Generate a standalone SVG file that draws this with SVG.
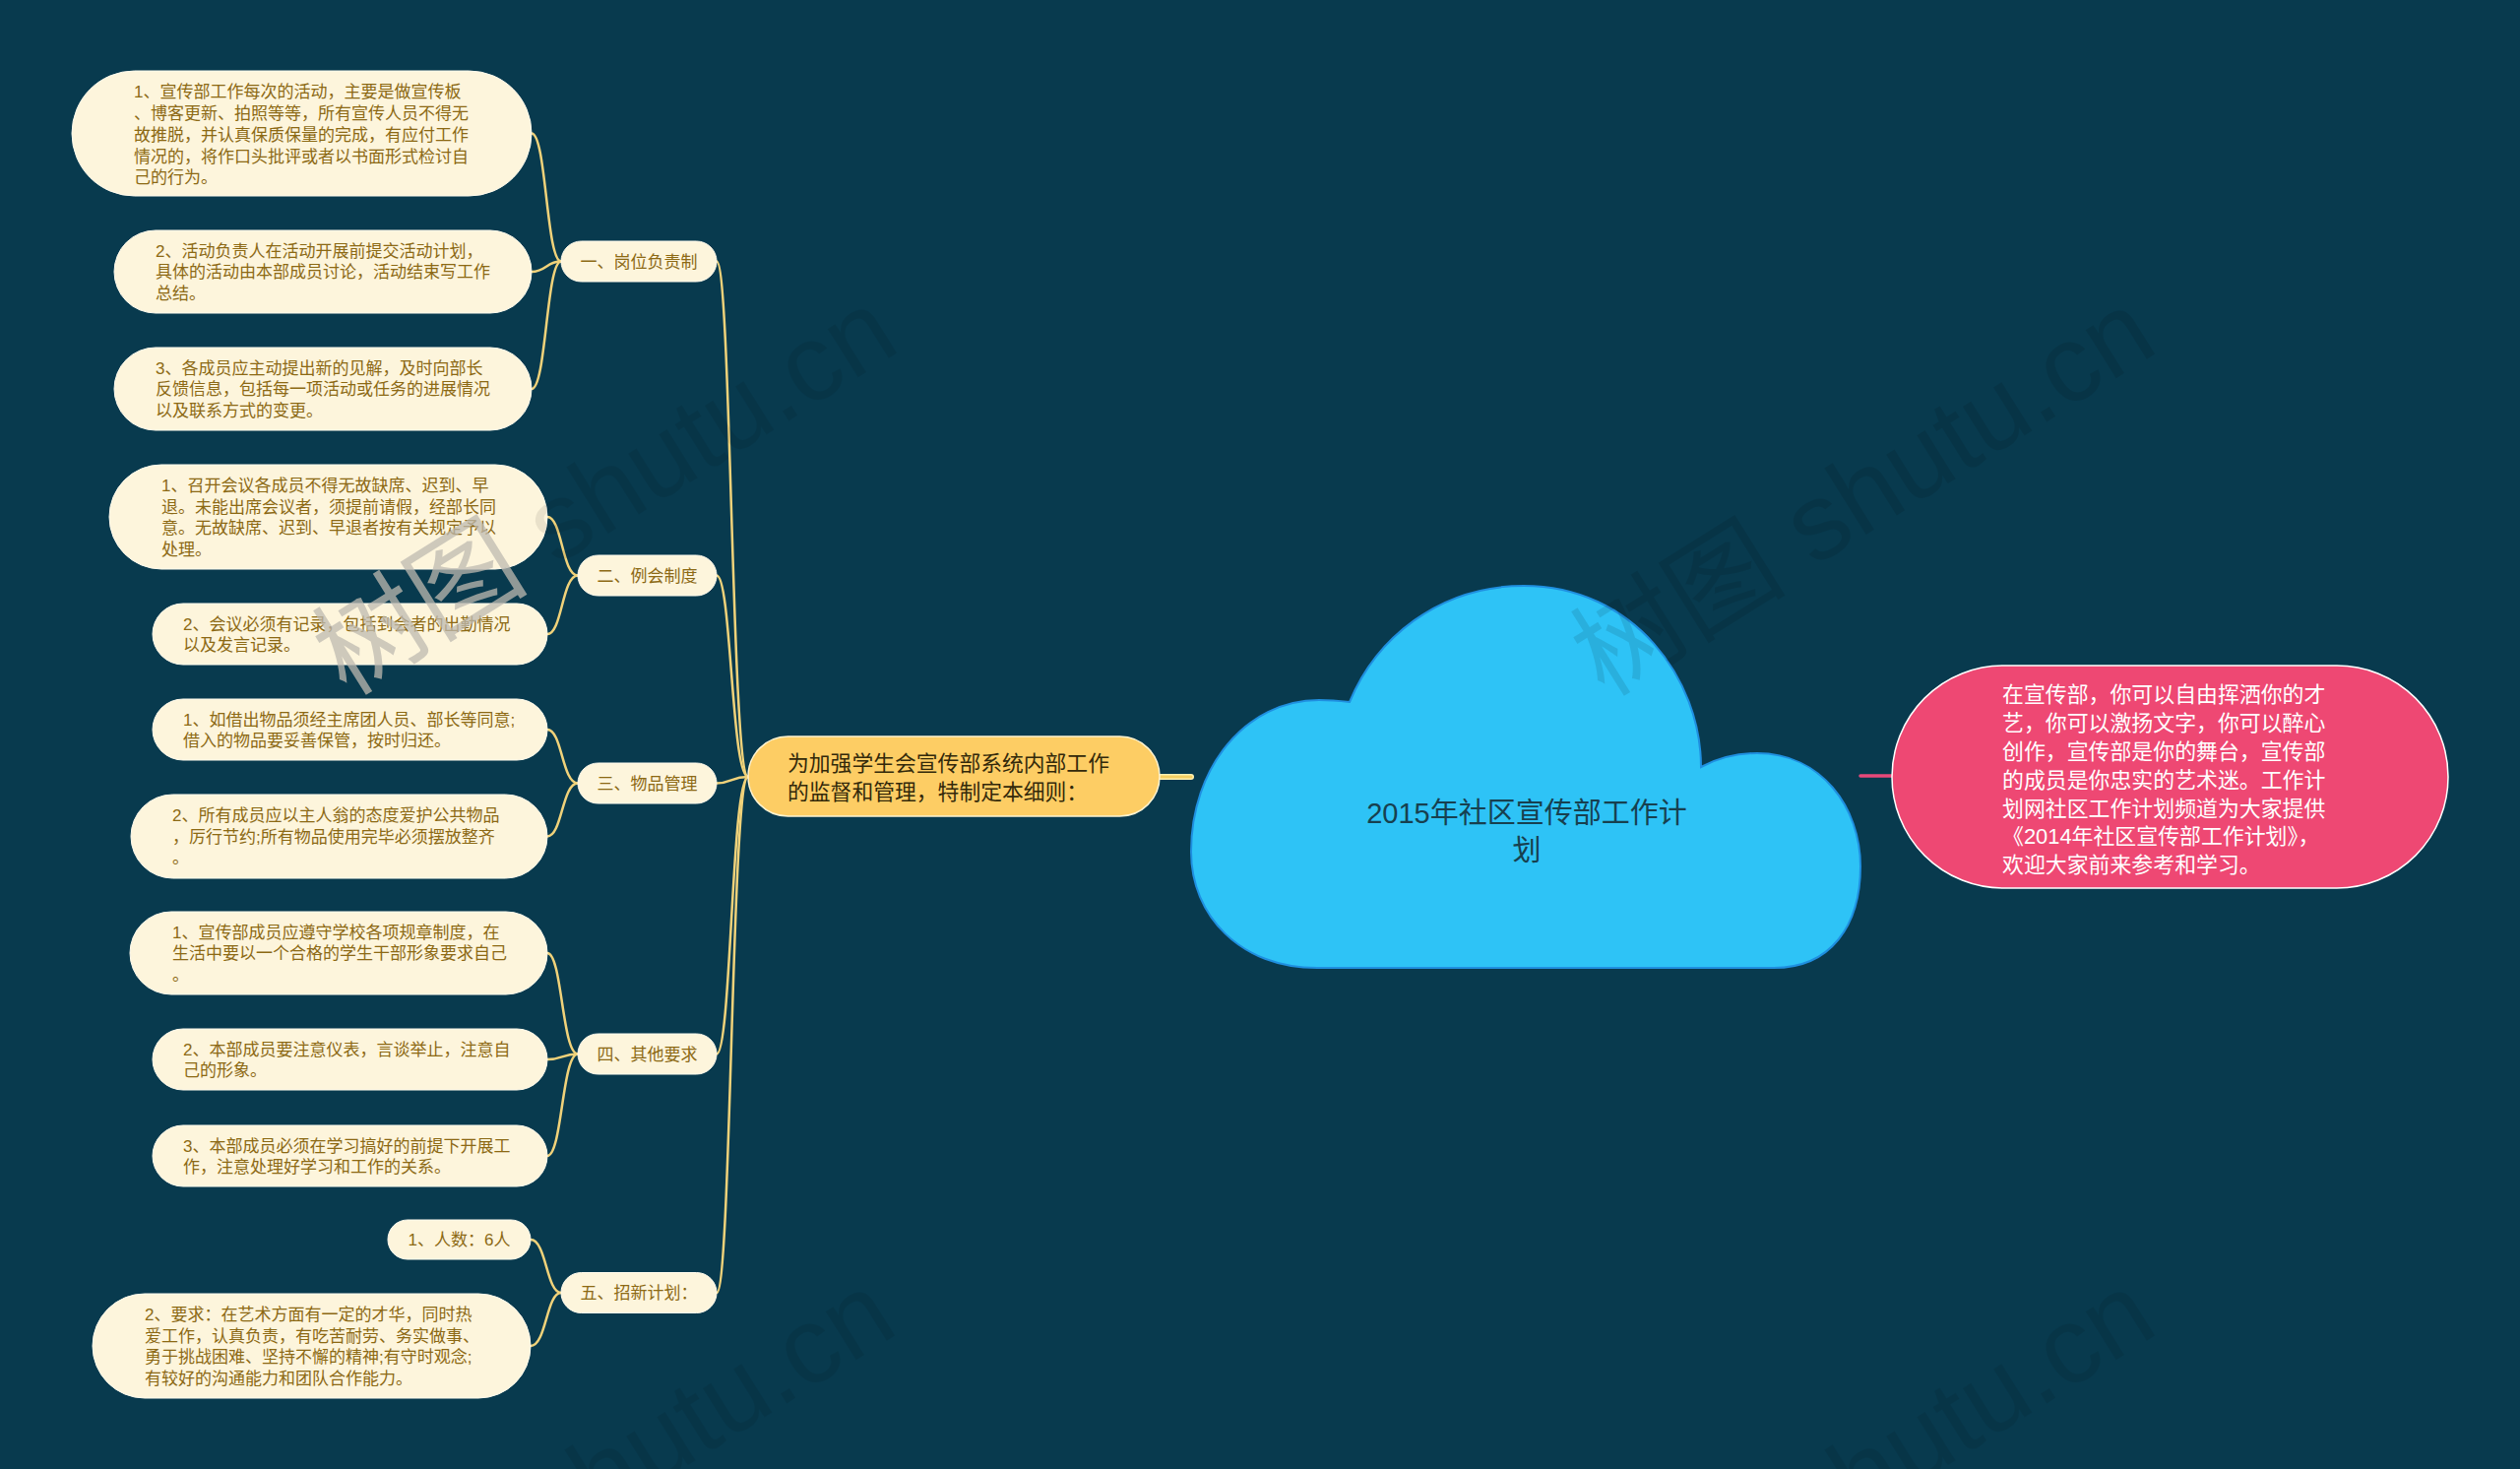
<svg xmlns="http://www.w3.org/2000/svg" width="2560" height="1492" viewBox="0 0 2560 1492">
<style>
.n rect{fill:#fdf5dc;stroke:#fffbee;stroke-width:1}
.t{font-family:"Liberation Sans","Noto Sans CJK SC",sans-serif;font-size:17px;fill:#8c6914}
.m{text-anchor:middle}
.c path{fill:none;stroke:#f0d27a;stroke-width:2.5;stroke-linecap:round}
.wm{font-family:"Liberation Sans","Noto Sans CJK SC",sans-serif;font-size:110px}
</style>
<rect x="0" y="0" width="2560" height="1492" fill="#083a4e"/>

<g id="connectors" class="c">
<path d="M760 789 C743 789 743 265.5 728 265.5"/>
<path d="M760 789 C743 789 743 584.5 728 584.5"/>
<path d="M760 789 C743 789 743 795.5 728 795.5"/>
<path d="M760 789 C743 789 743 1070.5 728 1070.5"/>
<path d="M760 789 C743 789 743 1313 728 1313"/>
<path d="M570 265.5 C555 265.5 555 135.5 540 135.5"/>
<path d="M570 265.5 C555 265.5 555 276 540 276"/>
<path d="M570 265.5 C555 265.5 555 395 540 395"/>
<path d="M587 584.5 C571 584.5 571 525 556 525"/>
<path d="M587 584.5 C571 584.5 571 644 556 644"/>
<path d="M587 795.5 C571 795.5 571 741 556 741"/>
<path d="M587 795.5 C571 795.5 571 849.5 556 849.5"/>
<path d="M587 1070.5 C571 1070.5 571 968 556 968"/>
<path d="M587 1070.5 C571 1070.5 571 1076 556 1076"/>
<path d="M587 1070.5 C571 1070.5 571 1174 556 1174"/>
<path d="M570 1313 C555 1313 555 1259 539 1259"/>
<path d="M570 1313 C555 1313 555 1367 539 1367"/>
<path d="M1178 789 L1210 789" style="stroke:#fff0b0;stroke-width:6"/>
<path d="M1178 789 L1210 789" style="stroke:#f3cf62;stroke-width:3"/>
<path d="M1890 788 L1922 788" style="stroke:#e8497a;stroke-width:3.5"/>
</g>

<g id="root">
<path d="M1338 983 C1260 983 1210 930 1210 865 C1210 780 1265 711 1340 711 C1352 711 1362 712 1371 713 C1397 650 1460 595 1548 595 C1660 595 1728 690 1728 779 C1745 770 1765 765 1785 765 C1850 765 1890 820 1890 880 C1890 940 1860 983 1802 983 Z" fill="#2ec3f6" stroke="#1f8fe0" stroke-width="2"/>
<text x="1551" y="836" class="m" style="font-family:'Liberation Sans','Noto Sans CJK SC',sans-serif;font-size:29px;fill:#17404f">2015年社区宣传部工作计</text>
<text x="1551" y="874" class="m" style="font-family:'Liberation Sans','Noto Sans CJK SC',sans-serif;font-size:29px;fill:#17404f">划</text>
</g>

<g id="main">
<rect x="760" y="748" width="418" height="81" rx="40.5" fill="#fdcd64" stroke="#fff3d0" stroke-width="1.5"/>
<text x="800" y="783" style="font-family:'Liberation Sans','Noto Sans CJK SC',sans-serif;font-size:21.8px;fill:#33290a">为加强学生会宣传部系统内部工作</text>
<text x="800" y="812" style="font-family:'Liberation Sans','Noto Sans CJK SC',sans-serif;font-size:21.8px;fill:#33290a">的监督和管理，特制定本细则：</text>
</g>

<g id="summary">
<rect x="1922" y="676" width="565" height="226" rx="113" fill="#ee4873" stroke="#ffffff" stroke-width="1.5"/>
<g style="font-family:'Liberation Sans','Noto Sans CJK SC',sans-serif;font-size:21.9px;fill:#ffffff">
<text x="2034" y="713">在宣传部，你可以自由挥洒你的才</text>
<text x="2034" y="742">艺，你可以激扬文字，你可以醉心</text>
<text x="2034" y="771">创作，宣传部是你的舞台，宣传部</text>
<text x="2034" y="800">的成员是你忠实的艺术迷。工作计</text>
<text x="2034" y="828.5">划网社区工作计划频道为大家提供</text>
<text x="2034" y="857">《2014年社区宣传部工作计划》，</text>
<text x="2034" y="886">欢迎大家前来参考和学习。</text>
</g>
</g>

<g id="b1" class="n">
<rect x="570" y="245" width="158" height="41" rx="20.5"/>
<text x="649" y="272" class="t m">一、岗位负责制</text>
</g>
<g id="b1-1" class="n">
<rect x="73" y="72" width="467" height="127" rx="63.5"/>
<text x="136" y="99" class="t">1、宣传部工作每次的活动，主要是做宣传板</text>
<text x="136" y="121" class="t">、博客更新、拍照等等，所有宣传人员不得无</text>
<text x="136" y="143" class="t">故推脱，并认真保质保量的完成，有应付工作</text>
<text x="136" y="165" class="t">情况的，将作口头批评或者以书面形式检讨自</text>
<text x="136" y="186" class="t">己的行为。</text>
</g>
<g id="b1-2" class="n">
<rect x="116" y="234" width="424" height="84" rx="42"/>
<text x="158" y="261" class="t">2、活动负责人在活动开展前提交活动计划，</text>
<text x="158" y="282" class="t">具体的活动由本部成员讨论，活动结束写工作</text>
<text x="158" y="304" class="t">总结。</text>
</g>
<g id="b1-3" class="n">
<rect x="116" y="353" width="424" height="84" rx="42"/>
<text x="158" y="380" class="t">3、各成员应主动提出新的见解，及时向部长</text>
<text x="158" y="401" class="t">反馈信息，包括每一项活动或任务的进展情况</text>
<text x="158" y="423" class="t">以及联系方式的变更。</text>
</g>

<g id="b2" class="n">
<rect x="587" y="564" width="141" height="41" rx="20.5"/>
<text x="657.5" y="591" class="t m">二、例会制度</text>
</g>
<g id="b2-1" class="n">
<rect x="111" y="472" width="445" height="106" rx="53"/>
<text x="164" y="499" class="t">1、召开会议各成员不得无故缺席、迟到、早</text>
<text x="164" y="520.5" class="t">退。未能出席会议者，须提前请假，经部长同</text>
<text x="164" y="542" class="t">意。无故缺席、迟到、早退者按有关规定予以</text>
<text x="164" y="563.5" class="t">处理。</text>
</g>
<g id="b2-2" class="n">
<rect x="155" y="613" width="401" height="62" rx="31"/>
<text x="186" y="639.5" class="t">2、会议必须有记录，包括到会者的出勤情况</text>
<text x="186" y="661" class="t">以及发言记录。</text>
</g>

<g id="b3" class="n">
<rect x="587" y="775" width="141" height="41" rx="20.5"/>
<text x="657.5" y="802" class="t m">三、物品管理</text>
</g>
<g id="b3-1" class="n">
<rect x="155" y="710" width="401" height="62" rx="31"/>
<text x="186" y="736.5" class="t">1、如借出物品须经主席团人员、部长等同意;</text>
<text x="186" y="758" class="t">借入的物品要妥善保管，按时归还。</text>
</g>
<g id="b3-2" class="n">
<rect x="133" y="807" width="423" height="85" rx="42.5"/>
<text x="175" y="834" class="t">2、所有成员应以主人翁的态度爱护公共物品</text>
<text x="175" y="855.5" class="t">，厉行节约;所有物品使用完毕必须摆放整齐</text>
<text x="175" y="877" class="t">。</text>
</g>

<g id="b4" class="n">
<rect x="587" y="1050" width="141" height="41" rx="20.5"/>
<text x="657.5" y="1077" class="t m">四、其他要求</text>
</g>
<g id="b4-1" class="n">
<rect x="132" y="926" width="424" height="84" rx="42"/>
<text x="175" y="953" class="t">1、宣传部成员应遵守学校各项规章制度，在</text>
<text x="175" y="974" class="t">生活中要以一个合格的学生干部形象要求自己</text>
<text x="175" y="996" class="t">。</text>
</g>
<g id="b4-2" class="n">
<rect x="155" y="1045" width="401" height="62" rx="31"/>
<text x="186" y="1071.5" class="t">2、本部成员要注意仪表，言谈举止，注意自</text>
<text x="186" y="1093" class="t">己的形象。</text>
</g>
<g id="b4-3" class="n">
<rect x="155" y="1143" width="401" height="62" rx="31"/>
<text x="186" y="1169.5" class="t">3、本部成员必须在学习搞好的前提下开展工</text>
<text x="186" y="1191" class="t">作，注意处理好学习和工作的关系。</text>
</g>

<g id="b5" class="n">
<rect x="570" y="1292.5" width="158" height="41" rx="20.5"/>
<text x="649" y="1319" class="t m">五、招新计划：</text>
</g>
<g id="b5-1" class="n">
<rect x="394" y="1239" width="145" height="40" rx="20"/>
<text x="466.5" y="1265" class="t m">1、人数：6人</text>
</g>
<g id="b5-2" class="n">
<rect x="94" y="1314" width="445" height="106" rx="53"/>
<text x="147" y="1341" class="t">2、要求：在艺术方面有一定的才华，同时热</text>
<text x="147" y="1362.5" class="t">爱工作，认真负责，有吃苦耐劳、务实做事、</text>
<text x="147" y="1384" class="t">勇于挑战困难、坚持不懈的精神;有守时观念;</text>
<text x="147" y="1405.5" class="t">有较好的沟通能力和团队合作能力。</text>
</g>

<g id="watermarks" class="wm">
<text transform="translate(352 708) rotate(-32)"><tspan fill="#bdb9b0" fill-opacity="0.75">树图</tspan><tspan fill="#000000" fill-opacity="0.08"> shutu.cn</tspan></text>
<text transform="translate(1630 709) rotate(-32)" fill="#000000" fill-opacity="0.1">树图 shutu.cn</text>
<text transform="translate(350 1706) rotate(-32)" fill="#000000" fill-opacity="0.08">树图 shutu.cn</text>
<text transform="translate(1630 1706) rotate(-32)" fill="#000000" fill-opacity="0.08">树图 shutu.cn</text>
</g>
</svg>
